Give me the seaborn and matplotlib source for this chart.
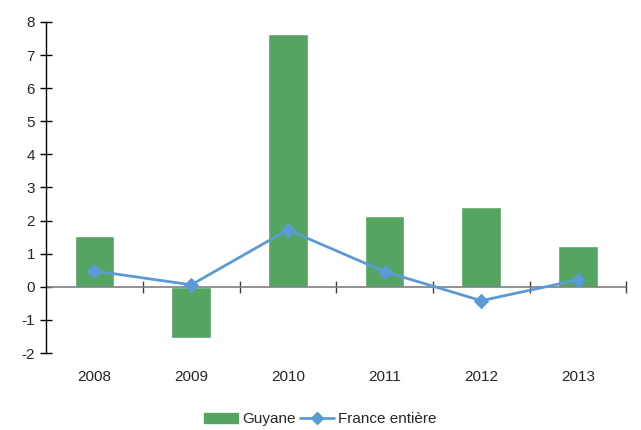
import matplotlib
matplotlib.use("Agg")
import matplotlib.pyplot as plt
import seaborn as sns
import pandas as pd
from matplotlib.patches import Patch
from matplotlib.lines import Line2D

years = ["2008", "2009", "2010", "2011", "2012", "2013"]
guyane = [1.52, -1.55, 7.65, 2.13, 2.42, 1.23]
france = [0.48, 0.06, 1.72, 0.46, -0.42, 0.21]

sns.set_style("white")
plt.rcParams['font.family'] = ['Liberation Sans', 'DejaVu Sans']
plt.rcParams['axes.unicode_minus'] = False

green = "#55a461"
blue = "#5b9bd5"

df = pd.DataFrame({"year": years, "Guyane": guyane, "France": france})

fig = plt.figure(figsize=(6.41, 4.30), dpi=100)
ax = fig.add_axes([0.072, 0.179, 0.905, 0.770])

sns.barplot(data=df, x="year", y="Guyane", color=green, width=0.41,
            saturation=1, ax=ax, zorder=2)
sns.lineplot(x=list(range(len(years))), y=france, color=blue, lw=2,
             marker="D", markersize=7, markeredgecolor=blue, ax=ax, zorder=3)

ax.set_xlim(-0.5, len(years) - 0.5)
ax.set_ylim(-2, 8)
ax.set_yticks(range(-2, 9))
ax.set_xlabel("")
ax.set_ylabel("")
ax.axhline(0, color="#7f7f7f", lw=1.2, zorder=2.5)

for s in ["top", "right", "bottom"]:
    ax.spines[s].set_visible(False)
ax.spines["left"].set_color("black")
ax.spines["left"].set_linewidth(1)
ax.tick_params(axis="y", direction="inout", length=8, width=1, color="black",
               labelsize=11, pad=4, left=True)
ax.set_xticks(range(len(years)))
ax.set_xticklabels(years)
ax.tick_params(axis="x", length=0, labelsize=11, pad=12)

sec = ax.secondary_xaxis(0.2)
sec.set_xticks([i + 0.5 for i in range(len(years))])
sec.set_xticklabels([])
sec.tick_params(direction="inout", length=8, width=1, color="#404040")
sec.spines["bottom"].set_visible(False)

handles = [Patch(facecolor=green, edgecolor=green),
           Line2D([0], [0], color=blue, lw=2, marker="D", markersize=6)]
fig.legend(handles, ["Guyane", "France entière"], loc="center",
           bbox_to_anchor=(0.5, 0.025), ncol=2, frameon=False, fontsize=11,
           handlelength=2.2, handletextpad=0.3, columnspacing=0.3)

fig.savefig("out.png", dpi=100)
